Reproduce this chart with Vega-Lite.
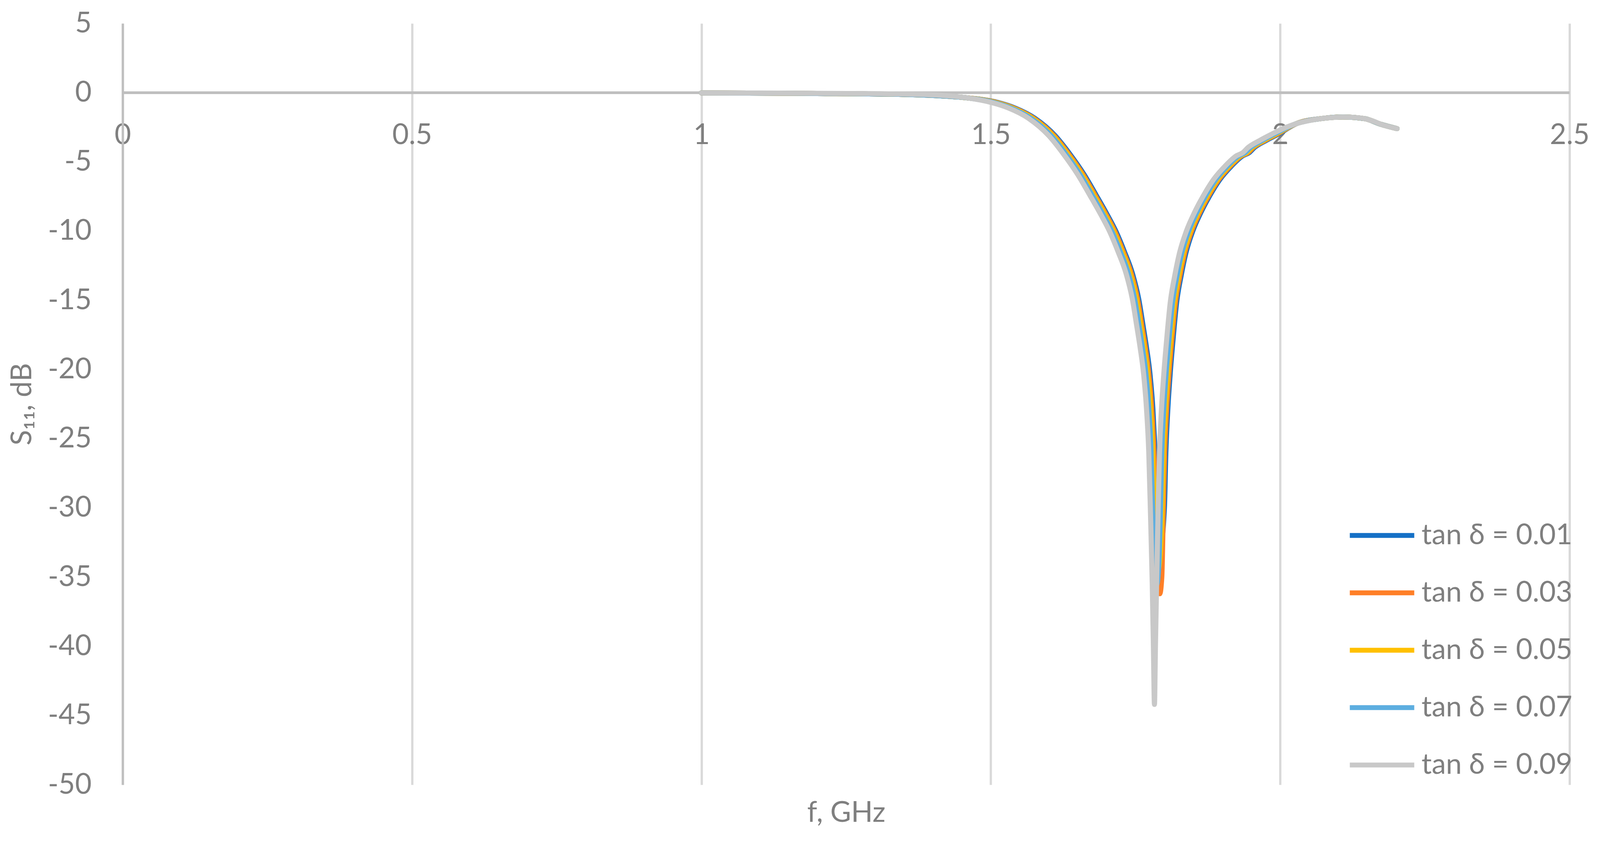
{
  "$schema": "https://vega.github.io/schema/vega-lite/v6.json",
  "width": 3704,
  "height": 1950,
  "autosize": {"type": "none"},
  "padding": {"left": 314, "top": 60, "right": 79, "bottom": 127},
  "background": "white",
  "config": {
    "font": "Lato",
    "view": {"stroke": null},
    "axis": {
      "labelFont": "Lato", "labelFontSize": 73, "labelColor": "#7f7f7f",
      "titleFont": "Lato", "titleFontSize": 73, "titleColor": "#7f7f7f", "titleFontWeight": "normal",
      "gridColor": "#d9d9d9", "gridWidth": 5.8, "gridOpacity": 1,
      "ticks": false, "tickSize": 0, "labelFlush": false, "labelOverlap": false,
      "labelExpr": "'' + datum.value"
    },
    "legend": {"labelFont": "Lato", "labelFontSize": 73, "labelColor": "#7f7f7f"}
  },
  "data": {
    "values": [
      {"t": "0.01", "f": 1.0, "db": -0.02}, {"t": "0.01", "f": 1.2, "db": -0.06}, {"t": "0.01", "f": 1.35, "db": -0.13}, {"t": "0.01", "f": 1.45, "db": -0.34},
      {"t": "0.01", "f": 1.511, "db": -0.7}, {"t": "0.01", "f": 1.541, "db": -1.1}, {"t": "0.01", "f": 1.576, "db": -1.85}, {"t": "0.01", "f": 1.611, "db": -3.1},
      {"t": "0.01", "f": 1.636, "db": -4.4}, {"t": "0.01", "f": 1.661, "db": -5.9}, {"t": "0.01", "f": 1.682, "db": -7.4}, {"t": "0.01", "f": 1.701, "db": -8.8},
      {"t": "0.01", "f": 1.716, "db": -10.0}, {"t": "0.01", "f": 1.731, "db": -11.5}, {"t": "0.01", "f": 1.745, "db": -13.1}, {"t": "0.01", "f": 1.756, "db": -15.0},
      {"t": "0.01", "f": 1.763, "db": -16.8}, {"t": "0.01", "f": 1.769, "db": -18.4}, {"t": "0.01", "f": 1.775, "db": -20.3}, {"t": "0.01", "f": 1.78, "db": -22.8},
      {"t": "0.01", "f": 1.784, "db": -26.0}, {"t": "0.01", "f": 1.788, "db": -30.0}, {"t": "0.01", "f": 1.794, "db": -32.5}, {"t": "0.01", "f": 1.8, "db": -30.0},
      {"t": "0.01", "f": 1.8025, "db": -26.0}, {"t": "0.01", "f": 1.806, "db": -22.8}, {"t": "0.01", "f": 1.81, "db": -20.3}, {"t": "0.01", "f": 1.815, "db": -17.8},
      {"t": "0.01", "f": 1.821, "db": -15.2}, {"t": "0.01", "f": 1.829, "db": -13.2}, {"t": "0.01", "f": 1.837, "db": -11.6}, {"t": "0.01", "f": 1.849, "db": -10.0},
      {"t": "0.01", "f": 1.863, "db": -8.66}, {"t": "0.01", "f": 1.879, "db": -7.4}, {"t": "0.01", "f": 1.896, "db": -6.27}, {"t": "0.01", "f": 1.916, "db": -5.3},
      {"t": "0.01", "f": 1.936, "db": -4.55}, {"t": "0.01", "f": 1.946, "db": -4.35}, {"t": "0.01", "f": 1.956, "db": -3.95}, {"t": "0.01", "f": 1.976, "db": -3.45},
      {"t": "0.01", "f": 1.997, "db": -2.99}, {"t": "0.01", "f": 2.028, "db": -2.24}, {"t": "0.01", "f": 2.07, "db": -1.88}, {"t": "0.01", "f": 2.108, "db": -1.76},
      {"t": "0.01", "f": 2.146, "db": -1.88}, {"t": "0.01", "f": 2.175, "db": -2.3}, {"t": "0.01", "f": 2.202, "db": -2.6},

      {"t": "0.03", "f": 1.0, "db": -0.02}, {"t": "0.03", "f": 1.2, "db": -0.06}, {"t": "0.03", "f": 1.35, "db": -0.13}, {"t": "0.03", "f": 1.45, "db": -0.34},
      {"t": "0.03", "f": 1.509, "db": -0.7}, {"t": "0.03", "f": 1.539, "db": -1.1}, {"t": "0.03", "f": 1.574, "db": -1.85}, {"t": "0.03", "f": 1.609, "db": -3.1},
      {"t": "0.03", "f": 1.634, "db": -4.4}, {"t": "0.03", "f": 1.659, "db": -5.9}, {"t": "0.03", "f": 1.68, "db": -7.4}, {"t": "0.03", "f": 1.699, "db": -8.8},
      {"t": "0.03", "f": 1.714, "db": -10.0}, {"t": "0.03", "f": 1.729, "db": -11.5}, {"t": "0.03", "f": 1.743, "db": -13.1}, {"t": "0.03", "f": 1.754, "db": -15.0},
      {"t": "0.03", "f": 1.761, "db": -16.8}, {"t": "0.03", "f": 1.767, "db": -18.4}, {"t": "0.03", "f": 1.773, "db": -20.3}, {"t": "0.03", "f": 1.778, "db": -22.8},
      {"t": "0.03", "f": 1.782, "db": -26.0}, {"t": "0.03", "f": 1.785, "db": -30.5}, {"t": "0.03", "f": 1.788, "db": -35.0}, {"t": "0.03", "f": 1.792, "db": -36.2},
      {"t": "0.03", "f": 1.7955, "db": -35.0}, {"t": "0.03", "f": 1.798, "db": -30.5}, {"t": "0.03", "f": 1.8005, "db": -26.0}, {"t": "0.03", "f": 1.804, "db": -22.8},
      {"t": "0.03", "f": 1.808, "db": -20.3}, {"t": "0.03", "f": 1.813, "db": -17.8}, {"t": "0.03", "f": 1.819, "db": -15.2}, {"t": "0.03", "f": 1.827, "db": -13.2},
      {"t": "0.03", "f": 1.835, "db": -11.6}, {"t": "0.03", "f": 1.847, "db": -10.0}, {"t": "0.03", "f": 1.861, "db": -8.66}, {"t": "0.03", "f": 1.877, "db": -7.4},
      {"t": "0.03", "f": 1.894, "db": -6.27}, {"t": "0.03", "f": 1.914, "db": -5.3}, {"t": "0.03", "f": 1.934, "db": -4.55}, {"t": "0.03", "f": 1.944, "db": -4.35},
      {"t": "0.03", "f": 1.954, "db": -3.95}, {"t": "0.03", "f": 1.974, "db": -3.45}, {"t": "0.03", "f": 1.995, "db": -2.99}, {"t": "0.03", "f": 2.028, "db": -2.24},
      {"t": "0.03", "f": 2.07, "db": -1.88}, {"t": "0.03", "f": 2.108, "db": -1.76}, {"t": "0.03", "f": 2.146, "db": -1.88}, {"t": "0.03", "f": 2.175, "db": -2.3},
      {"t": "0.03", "f": 2.202, "db": -2.6},

      {"t": "0.05", "f": 1.0, "db": -0.02}, {"t": "0.05", "f": 1.2, "db": -0.06}, {"t": "0.05", "f": 1.35, "db": -0.13}, {"t": "0.05", "f": 1.45, "db": -0.34},
      {"t": "0.05", "f": 1.507, "db": -0.7}, {"t": "0.05", "f": 1.537, "db": -1.1}, {"t": "0.05", "f": 1.572, "db": -1.85}, {"t": "0.05", "f": 1.607, "db": -3.1},
      {"t": "0.05", "f": 1.632, "db": -4.4}, {"t": "0.05", "f": 1.657, "db": -5.9}, {"t": "0.05", "f": 1.678, "db": -7.4}, {"t": "0.05", "f": 1.697, "db": -8.8},
      {"t": "0.05", "f": 1.712, "db": -10.0}, {"t": "0.05", "f": 1.727, "db": -11.5}, {"t": "0.05", "f": 1.741, "db": -13.1}, {"t": "0.05", "f": 1.752, "db": -15.0},
      {"t": "0.05", "f": 1.759, "db": -16.8}, {"t": "0.05", "f": 1.765, "db": -18.4}, {"t": "0.05", "f": 1.771, "db": -20.3}, {"t": "0.05", "f": 1.776, "db": -22.8},
      {"t": "0.05", "f": 1.78, "db": -26.0}, {"t": "0.05", "f": 1.783, "db": -30.5}, {"t": "0.05", "f": 1.7895, "db": -34.4}, {"t": "0.05", "f": 1.796, "db": -30.5},
      {"t": "0.05", "f": 1.7985, "db": -26.0}, {"t": "0.05", "f": 1.802, "db": -22.8}, {"t": "0.05", "f": 1.806, "db": -20.3}, {"t": "0.05", "f": 1.811, "db": -17.8},
      {"t": "0.05", "f": 1.817, "db": -15.2}, {"t": "0.05", "f": 1.825, "db": -13.2}, {"t": "0.05", "f": 1.833, "db": -11.6}, {"t": "0.05", "f": 1.845, "db": -10.0},
      {"t": "0.05", "f": 1.859, "db": -8.66}, {"t": "0.05", "f": 1.875, "db": -7.4}, {"t": "0.05", "f": 1.892, "db": -6.27}, {"t": "0.05", "f": 1.912, "db": -5.3},
      {"t": "0.05", "f": 1.932, "db": -4.55}, {"t": "0.05", "f": 1.942, "db": -4.35}, {"t": "0.05", "f": 1.952, "db": -3.95}, {"t": "0.05", "f": 1.972, "db": -3.45},
      {"t": "0.05", "f": 1.993, "db": -2.99}, {"t": "0.05", "f": 2.028, "db": -2.24}, {"t": "0.05", "f": 2.07, "db": -1.88}, {"t": "0.05", "f": 2.108, "db": -1.76},
      {"t": "0.05", "f": 2.146, "db": -1.88}, {"t": "0.05", "f": 2.175, "db": -2.3}, {"t": "0.05", "f": 2.202, "db": -2.6},

      {"t": "0.07", "f": 1.0, "db": -0.02}, {"t": "0.07", "f": 1.2, "db": -0.06}, {"t": "0.07", "f": 1.35, "db": -0.13}, {"t": "0.07", "f": 1.45, "db": -0.34},
      {"t": "0.07", "f": 1.504, "db": -0.7}, {"t": "0.07", "f": 1.534, "db": -1.1}, {"t": "0.07", "f": 1.569, "db": -1.85}, {"t": "0.07", "f": 1.604, "db": -3.1},
      {"t": "0.07", "f": 1.629, "db": -4.4}, {"t": "0.07", "f": 1.654, "db": -5.9}, {"t": "0.07", "f": 1.675, "db": -7.4}, {"t": "0.07", "f": 1.694, "db": -8.8},
      {"t": "0.07", "f": 1.709, "db": -10.0}, {"t": "0.07", "f": 1.724, "db": -11.5}, {"t": "0.07", "f": 1.738, "db": -13.1}, {"t": "0.07", "f": 1.749, "db": -15.0},
      {"t": "0.07", "f": 1.756, "db": -16.8}, {"t": "0.07", "f": 1.762, "db": -18.4}, {"t": "0.07", "f": 1.768, "db": -20.3}, {"t": "0.07", "f": 1.773, "db": -22.8},
      {"t": "0.07", "f": 1.777, "db": -26.0}, {"t": "0.07", "f": 1.78, "db": -30.5}, {"t": "0.07", "f": 1.783, "db": -34.0}, {"t": "0.07", "f": 1.787, "db": -35.5},
      {"t": "0.07", "f": 1.7905, "db": -34.0}, {"t": "0.07", "f": 1.793, "db": -30.5}, {"t": "0.07", "f": 1.7955, "db": -26.0}, {"t": "0.07", "f": 1.799, "db": -22.8},
      {"t": "0.07", "f": 1.803, "db": -20.3}, {"t": "0.07", "f": 1.808, "db": -17.8}, {"t": "0.07", "f": 1.814, "db": -15.2}, {"t": "0.07", "f": 1.822, "db": -13.2},
      {"t": "0.07", "f": 1.83, "db": -11.6}, {"t": "0.07", "f": 1.842, "db": -10.0}, {"t": "0.07", "f": 1.856, "db": -8.66}, {"t": "0.07", "f": 1.872, "db": -7.4},
      {"t": "0.07", "f": 1.889, "db": -6.27}, {"t": "0.07", "f": 1.909, "db": -5.3}, {"t": "0.07", "f": 1.929, "db": -4.55}, {"t": "0.07", "f": 1.939, "db": -4.35},
      {"t": "0.07", "f": 1.949, "db": -3.95}, {"t": "0.07", "f": 1.969, "db": -3.45}, {"t": "0.07", "f": 1.99, "db": -2.99}, {"t": "0.07", "f": 2.028, "db": -2.24},
      {"t": "0.07", "f": 2.07, "db": -1.88}, {"t": "0.07", "f": 2.108, "db": -1.76}, {"t": "0.07", "f": 2.146, "db": -1.88}, {"t": "0.07", "f": 2.175, "db": -2.3},
      {"t": "0.07", "f": 2.202, "db": -2.6},

      {"t": "0.09", "f": 1.0, "db": -0.02}, {"t": "0.09", "f": 1.1, "db": -0.03}, {"t": "0.09", "f": 1.17, "db": -0.04}, {"t": "0.09", "f": 1.25, "db": -0.06},
      {"t": "0.09", "f": 1.31, "db": -0.08}, {"t": "0.09", "f": 1.365, "db": -0.12}, {"t": "0.09", "f": 1.415, "db": -0.2}, {"t": "0.09", "f": 1.46, "db": -0.38},
      {"t": "0.09", "f": 1.5, "db": -0.7}, {"t": "0.09", "f": 1.53, "db": -1.1}, {"t": "0.09", "f": 1.565, "db": -1.85}, {"t": "0.09", "f": 1.6, "db": -3.1},
      {"t": "0.09", "f": 1.625, "db": -4.4}, {"t": "0.09", "f": 1.65, "db": -5.9}, {"t": "0.09", "f": 1.671, "db": -7.4}, {"t": "0.09", "f": 1.69, "db": -8.8},
      {"t": "0.09", "f": 1.705, "db": -10.0}, {"t": "0.09", "f": 1.72, "db": -11.5}, {"t": "0.09", "f": 1.734, "db": -13.1}, {"t": "0.09", "f": 1.745, "db": -15.0},
      {"t": "0.09", "f": 1.752, "db": -16.8}, {"t": "0.09", "f": 1.758, "db": -18.4}, {"t": "0.09", "f": 1.764, "db": -20.3}, {"t": "0.09", "f": 1.769, "db": -22.8},
      {"t": "0.09", "f": 1.773, "db": -26.0}, {"t": "0.09", "f": 1.776, "db": -30.5}, {"t": "0.09", "f": 1.779, "db": -35.5}, {"t": "0.09", "f": 1.781, "db": -40.0},
      {"t": "0.09", "f": 1.7828, "db": -44.2}, {"t": "0.09", "f": 1.7845, "db": -40.0}, {"t": "0.09", "f": 1.7865, "db": -35.5}, {"t": "0.09", "f": 1.789, "db": -30.5},
      {"t": "0.09", "f": 1.7915, "db": -26.0}, {"t": "0.09", "f": 1.795, "db": -22.8}, {"t": "0.09", "f": 1.799, "db": -20.3}, {"t": "0.09", "f": 1.804, "db": -17.8},
      {"t": "0.09", "f": 1.81, "db": -15.2}, {"t": "0.09", "f": 1.818, "db": -13.2}, {"t": "0.09", "f": 1.826, "db": -11.6}, {"t": "0.09", "f": 1.838, "db": -10.0},
      {"t": "0.09", "f": 1.852, "db": -8.66}, {"t": "0.09", "f": 1.868, "db": -7.4}, {"t": "0.09", "f": 1.885, "db": -6.27}, {"t": "0.09", "f": 1.905, "db": -5.3},
      {"t": "0.09", "f": 1.925, "db": -4.55}, {"t": "0.09", "f": 1.935, "db": -4.35}, {"t": "0.09", "f": 1.945, "db": -3.95}, {"t": "0.09", "f": 1.965, "db": -3.45},
      {"t": "0.09", "f": 1.986, "db": -2.99}, {"t": "0.09", "f": 2.005, "db": -2.6}, {"t": "0.09", "f": 2.028, "db": -2.24}, {"t": "0.09", "f": 2.05, "db": -2.02},
      {"t": "0.09", "f": 2.07, "db": -1.88}, {"t": "0.09", "f": 2.09, "db": -1.8}, {"t": "0.09", "f": 2.108, "db": -1.76}, {"t": "0.09", "f": 2.125, "db": -1.78},
      {"t": "0.09", "f": 2.146, "db": -1.88}, {"t": "0.09", "f": 2.16, "db": -2.05}, {"t": "0.09", "f": 2.175, "db": -2.3}, {"t": "0.09", "f": 2.19, "db": -2.48},
      {"t": "0.09", "f": 2.202, "db": -2.6}
    ]
  },
  "layer": [
    {
      "mark": {"type": "rule", "color": "#bfbfbf", "strokeWidth": 5.8},
      "encoding": {"y": {"datum": 0, "type": "quantitative"}}
    },
    {
      "mark": {"type": "line", "strokeWidth": 13, "strokeCap": "round", "strokeJoin": "round", "interpolate": "monotone"},
      "encoding": {
        "x": {
          "field": "f", "type": "quantitative",
          "scale": {"domain": [0, 2.5], "nice": false, "zero": false},
          "axis": {
            "title": "f, GHz", "values": [0, 0.5, 1, 1.5, 2, 2.5], "domain": false,
            "labelPadding": -1700, "titleY": 36, "titleBaseline": "top"
          }
        },
        "y": {
          "field": "db", "type": "quantitative",
          "scale": {"domain": [-50, 5], "nice": false, "zero": false},
          "axis": {
            "title": "S₁₁, dB", "values": [-50, -45, -40, -35, -30, -25, -20, -15, -10, -5, 0, 5],
            "domain": true, "domainColor": "#bfbfbf", "domainWidth": 5.8,
            "labelPadding": 80, "titleX": -257, "titleY": 975, "titleAngle": 270,
            "titleAlign": "center", "titleBaseline": "middle"
          }
        },
        "color": {
          "field": "t", "type": "nominal",
          "scale": {
            "domain": ["0.01", "0.03", "0.05", "0.07", "0.09"],
            "range": ["#1570c6", "#ff7f27", "#ffc000", "#5daee0", "#c8c8c8"]
          },
          "legend": {
            "title": null, "orient": "none", "legendX": 3135, "legendY": 1248,
            "padding": 0, "symbolType": "stroke", "symbolSize": 27225, "symbolStrokeWidth": 12.4,
            "clipHeight": 127, "rowPadding": 20, "labelOffset": 12, "labelLimit": 1000,
            "labelExpr": "'tan δ = ' + datum.label"
          }
        }
      }
    }
  ]
}
